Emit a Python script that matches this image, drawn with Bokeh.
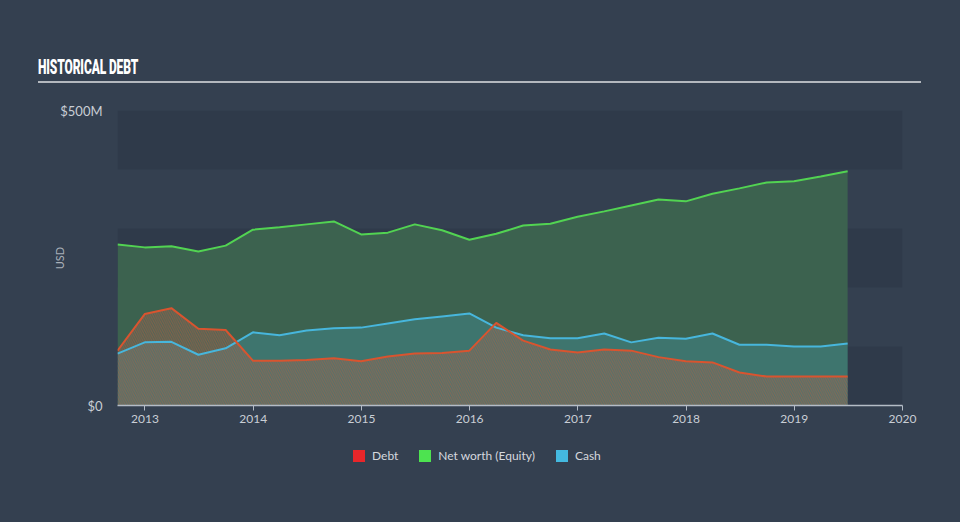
import numpy as np
import pandas as pd
from bokeh.plotting import figure
from bokeh.layouts import column
from bokeh.models import (ColumnDataSource, FixedTicker, BoxAnnotation, Legend, LegendItem, Div)
from bokeh.embed import file_html
from bokeh.resources import INLINE

# ---- data (USD millions, quarterly) ----
dates = ["2012-09-30", "2012-12-31", "2013-03-31", "2013-06-30", "2013-09-30", "2013-12-31",
         "2014-03-31", "2014-06-30", "2014-09-30", "2014-12-31", "2015-03-31", "2015-06-30",
         "2015-09-30", "2015-12-31", "2016-03-31", "2016-06-30", "2016-09-30", "2016-12-31",
         "2017-03-31", "2017-06-30", "2017-09-30", "2017-12-31", "2018-03-31", "2018-06-30",
         "2018-09-30", "2018-12-31", "2019-03-31", "2019-06-30"]
equity = [273, 268, 270, 261, 271, 298, 302, 307, 312, 290, 293, 307, 297, 281,
          291, 305, 308, 320, 329, 339, 349, 346, 359, 368, 378, 380, 388, 397]
debt = [93, 155, 165, 130, 128, 76, 76, 77, 80, 75, 83, 88, 89, 93,
        140, 110, 95, 90, 95, 93, 82, 75, 73, 56, 49, 49, 49, 49]
cash = [88, 107, 108, 86, 97, 124, 119, 127, 131, 132, 139, 146, 151, 156,
        132, 119, 114, 114, 122, 107, 115, 113, 122, 103, 103, 100, 100, 105]
year_ticks = [2013, 2014, 2015, 2016, 2017, 2018, 2019, 2020]
y_ticks = [0, 500]
y_tick_labels = {0: "$0", 500: "$500M"}
series_names = ["Debt", "Net worth (Equity)", "Cash"]
legend_colors = ["#e8262a", "#4de350", "#44b9e0"]
title_text = "HISTORICAL DEBT"
y_label = "USD"

# ---- styles ----
BG = "#344050"
BAND = "#2f3a4a"
TXT = "#c9ced5"
FONT = "Lato"
W = 960
HEAD = 90          # header strip height
MAIN = 345         # chart strip height
FOOT = 522 - HEAD - MAIN

# ---- header: title + rule (HTML) ----
header = Div(
    text=(
        '<div style="position:relative;width:%dpx;height:%dpx;background:%s;">'
        '<div style="position:absolute;left:38px;top:55px;white-space:nowrap;'
        'font-family:Roboto;font-weight:900;font-size:20px;line-height:24px;color:#ffffff;'
        'transform:scaleX(0.6);transform-origin:0 0;letter-spacing:-0.2px;">%s</div>'
        '<div style="position:absolute;left:38px;top:81px;width:883px;height:2px;'
        'background:#b3b8be;"></div></div>' % (W, HEAD, BG, title_text)
    ),
    width=W, height=HEAD, margin=(0, 0, 0, 0),
    styles={"background-color": BG},
)

# ---- main chart ----
dt = pd.to_datetime(dates)
xs = (dt.year + (dt.dayofyear - 1) / np.where(dt.is_leap_year, 366, 365)).to_numpy()
src = ColumnDataSource(dict(x=xs, equity=equity, debt=debt, cash=cash))

X0, X1 = float(xs[0]), 2020.0
p = figure(width=W, height=MAIN, output_backend="svg", toolbar_location=None,
           x_range=(X0, X1), y_range=(0, 500),
           min_border_left=117, min_border_right=58, min_border_top=110 - HEAD,
           min_border_bottom=MAIN - (405 - HEAD))
p.background_fill_color = BG
p.border_fill_color = BG
p.outline_line_color = None
p.grid.visible = False

for lo in (0, 200, 400):
    p.add_layout(BoxAnnotation(bottom=lo, top=lo + 100, fill_color=BAND, fill_alpha=1,
                               line_color=None, level="underlay"))

p.varea(x="x", y1=0, y2="equity", source=src, fill_color="#3c624f", fill_alpha=1)
p.varea(x="x", y1=0, y2="cash", source=src, fill_color="#45b6d8", fill_alpha=0.23)
p.varea(x="x", y1=0, y2="debt", source=src, fill_color="#7d7468", fill_alpha=0.3,
        hatch_pattern="left_diagonal_line", hatch_color="#c9573c", hatch_alpha=0.45,
        hatch_scale=4.5, hatch_weight=1)
p.line(x="x", y="equity", source=src, line_color="#52d352", line_width=2)
p.line(x="x", y="cash", source=src, line_color="#47b6dc", line_width=2)
p.line(x="x", y="debt", source=src, line_color="#d9542f", line_width=2)

xa = p.xaxis[0]
xa.ticker = FixedTicker(ticks=year_ticks)
xa.major_label_overrides = {y: str(y) for y in year_ticks}
xa.axis_line_color = "#b4bcc6"
xa.axis_line_width = 1.5
xa.major_tick_line_color = "#b4bcc6"
xa.major_tick_out = 5
xa.major_tick_in = 0
xa.minor_tick_line_color = None
xa.major_label_standoff = 4
xa.major_label_text_color = TXT
xa.major_label_text_font = FONT
xa.major_label_text_font_size = "12px"

ya = p.yaxis[0]
ya.ticker = FixedTicker(ticks=y_ticks)
ya.major_label_overrides = y_tick_labels
ya.axis_line_color = None
ya.major_tick_line_color = None
ya.minor_tick_line_color = None
ya.major_tick_out = 0
ya.major_label_standoff = 15
ya.major_label_text_color = TXT
ya.major_label_text_font = FONT
ya.major_label_text_font_size = "13px"
ya.axis_label = y_label
ya.axis_label_standoff = -9
ya.axis_label_text_color = "#a9b0b9"
ya.axis_label_text_font = FONT
ya.axis_label_text_font_size = "11px"
ya.axis_label_text_font_style = "normal"

# ---- footer strip with the legend ----
foot = figure(width=W, height=FOOT, output_backend="svg", toolbar_location=None,
              x_axis_type=None, y_axis_type=None, x_range=(0, 1), y_range=(0, 1),
              min_border_left=117, min_border_right=58, min_border_top=0, min_border_bottom=0)
foot.background_fill_color = BG
foot.border_fill_color = BG
foot.outline_line_color = None
foot.grid.visible = False
nan1 = [np.nan]
items = []
for name, col in zip(series_names, legend_colors):
    r = foot.quad(left=nan1, right=nan1, top=nan1, bottom=nan1, fill_color=col, line_color=None)
    items.append(LegendItem(label=name, renderers=[r]))
legend = Legend(items=items, location=(351 - 117, FOOT - (448 - HEAD - MAIN) - 15),
                orientation="horizontal",
                glyph_width=15, glyph_height=15, label_standoff=6, spacing=19,
                padding=0, margin=0, border_line_color=None, background_fill_alpha=0,
                label_text_color="#d4d8de", label_text_font=FONT, label_text_font_size="12px",
                label_height=15, label_width=0)
foot.add_layout(legend)

try:
    from bokeh.models import GlobalInlineStyleSheet
    p.stylesheets = [GlobalInlineStyleSheet(css="html, body { background: %s; }" % BG)]
except Exception:
    pass

layout = column(header, p, foot, spacing=0)
open("out.html", "w").write(file_html(layout, INLINE))
